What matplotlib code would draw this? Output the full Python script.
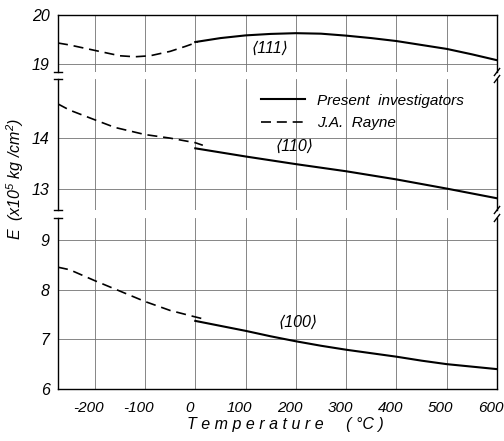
import numpy as np
import matplotlib
matplotlib.use("Agg")
import matplotlib.pyplot as plt
import matplotlib.transforms as mtransforms

plt.rcParams['font.family'] = ['Liberation Sans', 'DejaVu Sans']
plt.rcParams['font.style'] = 'italic'
plt.rcParams['mathtext.fontset'] = 'custom'
plt.rcParams['mathtext.rm'] = 'Liberation Sans:italic'
plt.rcParams['mathtext.it'] = 'Liberation Sans:italic'
plt.rcParams['axes.unicode_minus'] = False

# <111>
t111_rayne = [-273, -250, -200, -150, -120, -90, -50, -20, 5]
e111_rayne = [19.43, 19.39, 19.28, 19.17, 19.15, 19.17, 19.26, 19.36, 19.45]
t111 = [0, 50, 100, 150, 200, 250, 300, 350, 400, 450, 500, 550, 600]
e111 = [19.45, 19.53, 19.585, 19.615, 19.63, 19.62, 19.58, 19.53, 19.47, 19.39, 19.31, 19.20, 19.08]

# <110>
t110_rayne = [-273, -250, -200, -160, -100, -50, 0, 15]
e110_rayne = [14.67, 14.55, 14.36, 14.21, 14.07, 14.00, 13.91, 13.86]
t110 = [0, 100, 200, 300, 400, 500, 600]
e110 = [13.80, 13.64, 13.49, 13.35, 13.19, 13.01, 12.82]

# <100>
t100_rayne = [-273, -250, -200, -150, -100, -50, 0, 20]
e100_rayne = [8.45, 8.40, 8.18, 7.97, 7.76, 7.58, 7.45, 7.40]
t100 = [0, 50, 100, 150, 200, 250, 300, 350, 400, 450, 500, 550, 600]
e100 = [7.37, 7.27, 7.17, 7.06, 6.96, 6.87, 6.79, 6.72, 6.65, 6.57, 6.50, 6.45, 6.40]

xticks = [-200, -100, 0, 100, 200, 300, 400, 500, 600]

W, H = 504, 441
fig = plt.figure(figsize=(W / 100, H / 100), dpi=100)

def px_axes(top, bottom):
    return fig.add_axes([58 / W, 1 - bottom / H, 439 / W, (bottom - top) / H])

ax_top = px_axes(15, 72)
ax_mid = px_axes(79, 210)
ax_bot = px_axes(218, 389)

ax_top.set_ylim(18.84, 20)
ax_mid.set_ylim(12.59, 15.16)
ax_bot.set_ylim(6, 9.44)
ax_top.set_yticks([19, 20])
ax_mid.set_yticks([13, 14])
ax_bot.set_yticks([6, 7, 8, 9])

solid = dict(color='black', lw=1.5)
dashed = dict(color='black', lw=1.2, linestyle=(0, (6, 3.5)))

ax_top.plot(t111_rayne, e111_rayne, **dashed)
ax_top.plot(t111, e111, **solid)
l_dash, = ax_mid.plot(t110_rayne, e110_rayne, **dashed)
l_solid, = ax_mid.plot(t110, e110, **solid)
ax_bot.plot(t100_rayne, e100_rayne, **dashed)
ax_bot.plot(t100, e100, **solid)

for ax in (ax_top, ax_mid, ax_bot):
    ax.set_xlim(-273, 600)
    ax.set_xticks(xticks)
    ax.grid(True, color='0.45', lw=0.6)
    ax.tick_params(length=0, pad=6, labelsize=11.5)
    for s in ax.spines.values():
        s.set_linewidth(1.0)
    ax.set_axisbelow(True)

ax_top.spines['bottom'].set_visible(False)
ax_mid.spines['top'].set_visible(False)
ax_mid.spines['bottom'].set_visible(False)
ax_bot.spines['top'].set_visible(False)
ax_top.tick_params(labelbottom=False)
ax_mid.tick_params(labelbottom=False)
ax_bot.tick_params(axis='x', pad=9, labelsize=11)
shift = mtransforms.ScaledTranslation(-6 / 100, 0, fig.dpi_scale_trans)
for lab in ax_bot.get_xticklabels():
    lab.set_transform(lab.get_transform() + shift)

# break marks at the segment ends
def caps(ax, ends):
    h = 3.5 / ax.bbox.height
    for y in ends:
        ax.plot([-0.009, 0.009], [y, y], transform=ax.transAxes, color='black', lw=1.0, clip_on=False)
        ax.plot([0.994, 1.006], [y - h, y + h], transform=ax.transAxes, color='black', lw=1.0, clip_on=False)

caps(ax_top, [0])
caps(ax_mid, [0, 1])
caps(ax_bot, [1])

ax_top.text(148, 19.33, '\u27e8111\u27e9', fontsize=11.5, ha='center', va='center')
ax_mid.text(197, 13.84, '\u27e8110\u27e9', fontsize=11.5, ha='center', va='center')
ax_bot.text(205, 7.33, '\u27e8100\u27e9', fontsize=11.5, ha='center', va='center')

leg = ax_mid.legend([l_solid, l_dash], ['Present  investigators', 'J.A.  Rayne'],
                    loc='upper left', bbox_to_anchor=(247 / W, 1 - 80 / H), bbox_transform=fig.transFigure,
                    frameon=False, handlelength=2.9, handletextpad=0.8, labelspacing=0.55,
                    prop=dict(style='italic', size=11))

fig.text(15 / W, 1 - 179 / H, r'E  (x10$^5$ kg /cm$^2$)', rotation=90, ha='center', va='center',
         fontsize=11.5)
fig.text(285 / W, 1 - 425 / H, 'T e m p e r a t u r e     ( °C )', ha='center', va='center',
         fontsize=11.5)

fig.savefig('out.png', dpi=100)
